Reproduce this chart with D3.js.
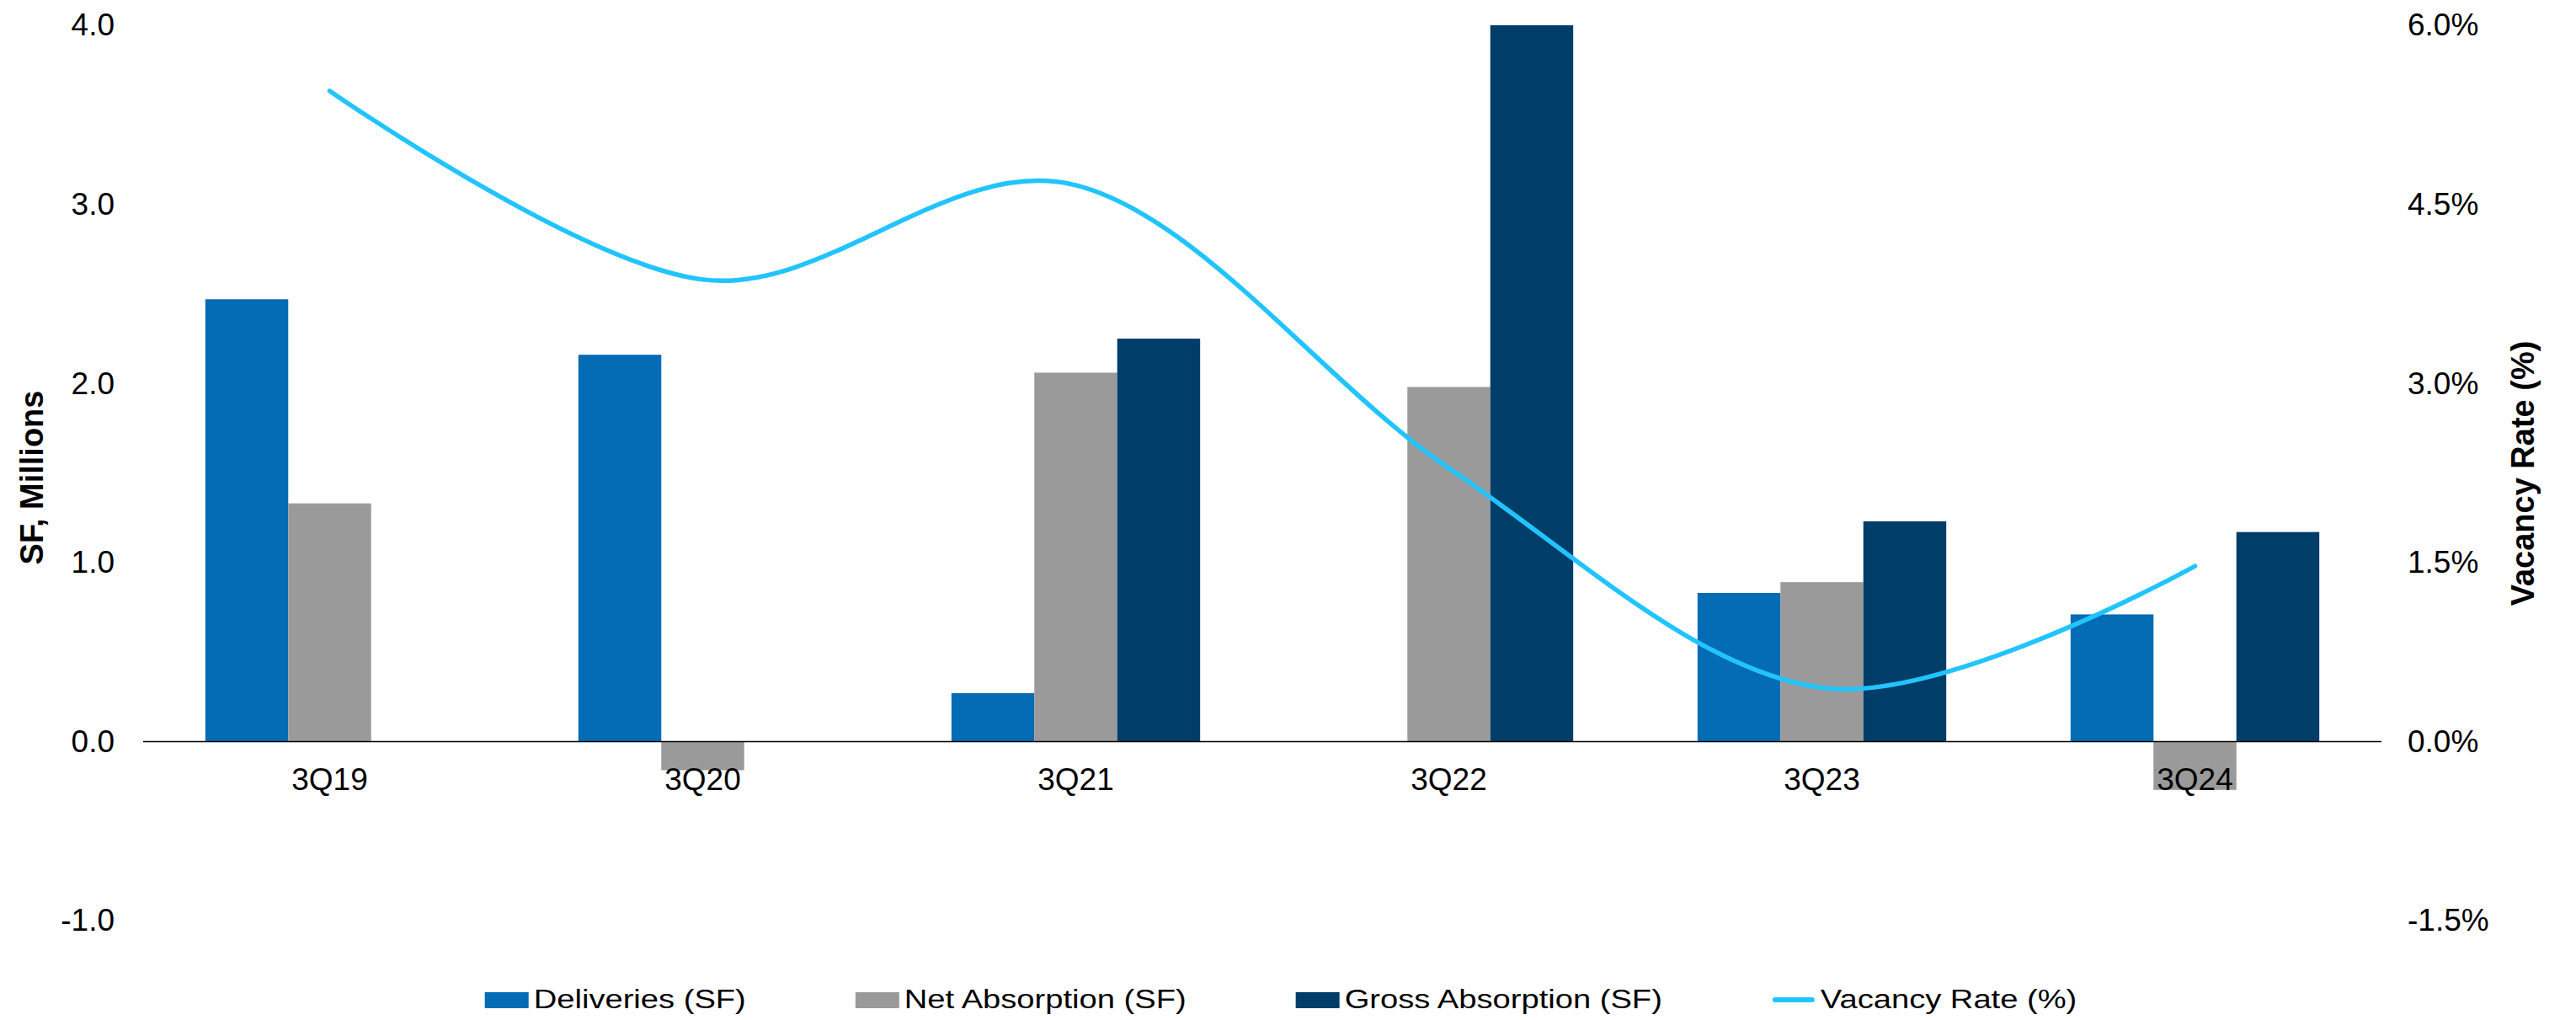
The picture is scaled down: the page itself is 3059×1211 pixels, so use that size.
<!DOCTYPE html>
<html>
<head>
<meta charset="utf-8">
<script src="https://cdn.jsdelivr.net/npm/d3@7"></script>
<style>
  html, body { margin: 0; padding: 0; background: #ffffff; }
  svg { display: block; }
  text { font-family: "Liberation Sans", Arial, sans-serif; fill: #000; }
</style>
</head>
<body>
<svg id="chart" width="3059" height="1211"></svg>
<script>
// Quarterly series (SF in millions, vacancy in percent)
const categories = ["3Q19", "3Q20", "3Q21", "3Q22", "3Q23", "3Q24"];
const deliveries = [2.47, 2.16, 0.27, 0, 0.83, 0.71];
const netAbsorption = [1.33, -0.16, 2.06, 1.98, 0.89, -0.27];
const grossAbsorption = [0, 0, 2.25, 4.00, 1.23, 1.17];
const vacancyRate = [5.45, 3.87, 4.66, 2.29, 0.45, 1.47];

const leftTicks = [-1, 0, 1, 2, 3, 4];
const rightTicks = [-1.5, 0, 1.5, 3, 4.5, 6];

const seriesNames = ["Deliveries (SF)", "Net Absorption (SF)", "Gross Absorption (SF)"];
const seriesColors = ["#046bb5", "#9a9a9a", "#013d69"];
const lineName = "Vacancy Rate (%)";
const lineColor = "#22c4ff";

const W = 3059, H = 1211;
const plot = { left: 170, right: 2828, top: 30, bottom: 1093 };

const svg = d3.select("#chart");

const x0 = d3.scaleBand()
  .domain(categories)
  .range([plot.left, plot.right])
  .paddingInner(1 / 3)
  .paddingOuter(1 / 6);

const x1 = d3.scaleBand()
  .domain(d3.range(seriesNames.length))
  .range([0, x0.bandwidth()]);

const y = d3.scaleLinear().domain([-1, 4]).range([plot.bottom, plot.top]);
const yR = d3.scaleLinear().domain([-1.5, 6]).range([plot.bottom, plot.top]);

const seriesValues = [deliveries, netAbsorption, grossAbsorption];

// Bars
const groups = svg.append("g").selectAll("g")
  .data(categories)
  .join("g")
  .attr("transform", d => `translate(${x0(d)},0)`);

groups.selectAll("rect")
  .data((c, i) => seriesValues.map((vals, s) => ({ s, v: vals[i] })))
  .join("rect")
  .attr("x", d => x1(d.s))
  .attr("width", x1.bandwidth())
  .attr("y", d => y(Math.max(0, d.v)))
  .attr("height", d => Math.abs(y(d.v) - y(0)))
  .attr("fill", d => seriesColors[d.s]);

// Zero baseline
svg.append("line")
  .attr("x1", plot.left).attr("x2", plot.right)
  .attr("y1", y(0)).attr("y2", y(0))
  .attr("stroke", "#000").attr("stroke-width", 1.5);

// Category labels
svg.append("g").selectAll("text")
  .data(categories)
  .join("text")
  .attr("x", d => x0(d) + x0.bandwidth() / 2)
  .attr("y", 938)
  .attr("text-anchor", "middle")
  .style("font-size", "37px")
  .text(d => d);

// Left axis
const leftAxis = svg.append("g")
  .attr("transform", `translate(${plot.left},0)`)
  .call(d3.axisLeft(y).tickValues(leftTicks).tickSize(0).tickPadding(34)
    .tickFormat(d => d.toFixed(1)));
leftAxis.select(".domain").remove();
leftAxis.selectAll("text").style("font-size", "37px").attr("fill", "#000");

// Right axis
const rightAxis = svg.append("g")
  .attr("transform", `translate(${plot.right},0)`)
  .call(d3.axisRight(yR).tickValues(rightTicks).tickSize(0).tickPadding(31)
    .tickFormat(d => d.toFixed(1) + "%"));
rightAxis.select(".domain").remove();
rightAxis.selectAll("text").style("font-size", "37px").attr("fill", "#000");

// Axis titles
svg.append("text")
  .attr("transform", `translate(51,567) rotate(-90)`)
  .attr("text-anchor", "middle")
  .style("font-size", "38px").style("font-weight", "bold")
  .text("SF, Millions");

svg.append("text")
  .attr("transform", `translate(3009,562) rotate(-90)`)
  .attr("text-anchor", "middle")
  .style("font-size", "38px").style("font-weight", "bold")
  .text("Vacancy Rate (%)");

// Vacancy line (smoothed)
const line = d3.line()
  .x((d, i) => x0(categories[i]) + x0.bandwidth() / 2)
  .y(d => yR(d))
  .curve(d3.curveCatmullRom.alpha(0));

svg.append("path")
  .datum(vacancyRate)
  .attr("d", line)
  .attr("fill", "none")
  .attr("stroke", lineColor)
  .attr("stroke-width", 5.5)
  .attr("stroke-linecap", "round");

// Legend
const legendItems = seriesNames.map((n, i) => ({ name: n, color: seriesColors[i], type: "rect" }))
  .concat([{ name: lineName, color: lineColor, type: "line" }]);

const legend = svg.append("g");
const stretch = 1.23, swatchW = 52, swatchGap = 6, itemGap = 130;
const legendY = 1197;

const items = legend.selectAll("g").data(legendItems).join("g");
items.each(function (d) {
  const g = d3.select(this);
  if (d.type === "rect") {
    g.append("rect").attr("x", 0).attr("y", legendY - 19).attr("width", swatchW).attr("height", 19).attr("fill", d.color);
  } else {
    g.append("line").attr("x1", 4).attr("x2", swatchW - 4).attr("y1", legendY - 10).attr("y2", legendY - 10)
      .attr("stroke", d.color).attr("stroke-width", 6).attr("stroke-linecap", "round");
  }
  const t = g.append("text")
    .attr("x", swatchW + swatchGap)
    .attr("y", legendY)
    .style("font-size", "31px")
    .text(d.name);
  const natural = t.node().getComputedTextLength();
  t.attr("textLength", natural * stretch).attr("lengthAdjust", "spacingAndGlyphs");
  d.width = swatchW + swatchGap + natural * stretch;
});
const totalW = d3.sum(legendItems, d => d.width) + itemGap * (legendItems.length - 1);
let cursor = 1521 - totalW / 2;
items.attr("transform", d => { const tx = cursor; cursor += d.width + itemGap; return `translate(${tx},0)`; });
</script>
</body>
</html>
